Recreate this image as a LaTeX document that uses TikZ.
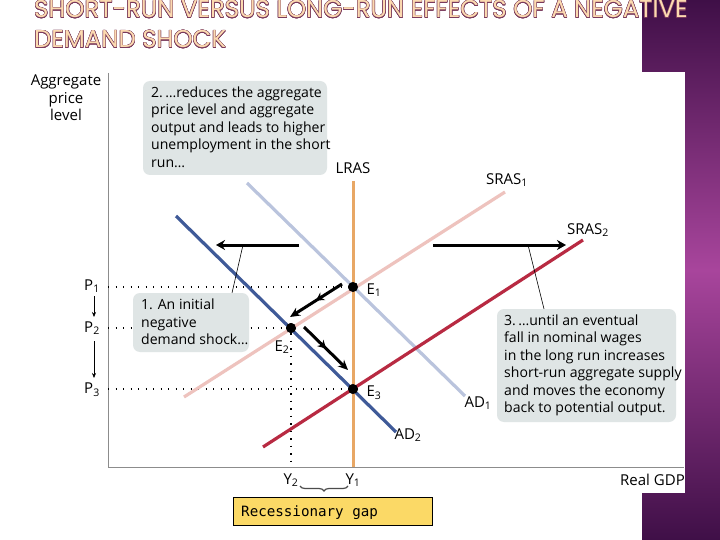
\documentclass[tikz,border=0pt]{standalone}
\usepackage{fontspec}
\usepackage[copies]{contour}
\setmainfont{Open Sans}
\newfontfamily\titlefont{Poppins}
\newfontfamily\gapfont{DejaVu Sans Mono}
\usetikzlibrary{arrows.meta,decorations.pathreplacing,decorations.markings}
\definecolor{notegray}{HTML}{DFE5E5}
\definecolor{lrascol}{HTML}{E8A765}
\definecolor{adonecol}{HTML}{BAC4DD}
\definecolor{adtwocol}{HTML}{3F5A98}
\definecolor{srasonecol}{HTML}{EEC3BE}
\definecolor{srastwocol}{HTML}{B82A42}
\definecolor{gapcol}{HTML}{FBD966}
\definecolor{titlecol}{HTML}{FCDAB0}
\definecolor{titleedge}{HTML}{7A3A5C}
\definecolor{sidedark}{HTML}{3F0F47}
\definecolor{sidelight}{HTML}{A8459C}
\contourlength{0.4pt}
\tikzset{
  curve/.style={line width=3.2pt},
  axisline/.style={draw=black!45,line width=1pt},
  dotline/.style={line width=1.3pt,dash pattern=on 1.4pt off 6.1pt},
  eqdot/.style={circle,fill=black,inner sep=0pt,minimum size=10pt},
  lab/.style={font=\fontsize{15}{17.5}\selectfont,inner sep=0pt},
  notebox/.style={fill=notegray,rounded corners=7pt,inner sep=0pt},
  notetext/.style={font=\fontsize{14.05}{17.5}\selectfont,align=left,anchor=north west,inner sep=0pt},
  shift arrow/.style={line width=3pt,-{Stealth[length=9pt,width=10pt]}},
  move arrow/.style={line width=3pt,-{Stealth[length=10pt,width=9pt]},
    postaction={decorate,decoration={markings,mark=at position 0.5 with {\arrow[line width=1pt]{Stealth[length=8pt,width=9pt]}}}}},
  title/.style={font=\titlefont\fontsize{24.4}{30}\selectfont,anchor=base west,inner sep=0pt}
}
\begin{document}
\begin{tikzpicture}[x=1pt,y=-1pt]
  \useasboundingbox (0,0) rectangle (720,540);
  \fill[white] (0,0) rectangle (720,540);
  \shade[top color=sidedark,bottom color=sidedark,middle color=sidelight] (642,0) rectangle (720,540);
  \fill[white] (642,72) rectangle (685,493);

  \node[title] (titleone) at (34,18) {\contour{titleedge}{\textcolor{titlecol}{SHORT-RUN VERSUS LONG-RUN EFFECTS OF A NEGATIVE}}};
  \node[title] (titletwo) at (34,48) {\contour{titleedge}{\textcolor{titlecol}{DEMAND SHOCK}}};

  % axes
  \coordinate (origin) at (108,467);
  \coordinate (ytop) at (108,73);
  \coordinate (xend) at (684,467);
  \draw[axisline] (ytop) -- (origin) -- (xend);

  \node[eqdot] (Eone) at (353,287) {};
  \node[eqdot] (Etwo) at (291,328) {};
  \node[eqdot] (Ethree) at (353,389) {};

  % dotted guides
  \coordinate (axisPone) at (108,287);
  \coordinate (axisPtwo) at (108,328);
  \coordinate (axisPthree) at (108,389);
  \coordinate (axisYtwo) at (291,467);
  \draw[dotline] (axisPone) -- (Eone);
  \draw[dotline] (axisPtwo) -- (Etwo);
  \draw[dotline] (axisPthree) -- (Ethree);
  \draw[dotline] (Etwo) -- (axisYtwo);

  % curves
  \coordinate (srasonea) at (184,397);
  \coordinate (srasoneb) at (505,192);
  \coordinate (adonea) at (247,183);
  \coordinate (adoneb) at (465,396);
  \coordinate (lrasa) at (353.5,181);
  \coordinate (lrasb) at (353.5,467);
  \coordinate (adtwoa) at (176,216);
  \coordinate (adtwob) at (396,432);
  \coordinate (srastwoa) at (263,447);
  \coordinate (srastwob) at (583,240);
  \draw[curve,srasonecol] (srasonea) -- (srasoneb);
  \draw[curve,adonecol] (adonea) -- (adoneb);
  \draw[curve,lrascol] (lrasa) -- (lrasb);
  \draw[curve,adtwocol] (adtwoa) -- (adtwob);
  \draw[curve,srastwocol] (srastwoa) -- (srastwob);
  \node[eqdot] at (Eone) {};
  \node[eqdot] at (Etwo) {};
  \node[eqdot] at (Ethree) {};

  % leaders and notes
  \coordinate (leadonea) at (243,245);
  \coordinate (leadoneb) at (232,293);
  \coordinate (leadthreea) at (528,245);
  \coordinate (leadthreeb) at (544,309);
  \draw[line width=0.6pt] (leadonea) -- (leadoneb);
  \draw[line width=0.6pt] (leadthreea) -- (leadthreeb);

  \node[notebox,minimum width=184pt,minimum height=94pt] (notetwo) at (235,128) {};
  \node[notetext] (notetwotext) at (151,86.5) {2.\,\dots reduces the aggregate\\price level and aggregate\\output and leads to higher\\unemployment in the short\\run\dots};
  \node[notebox,minimum width=116pt,minimum height=59pt] (noteone) at (191,322.5) {};
  \node[notetext] (noteonetext) at (141,299) {1. An initial\\negative\\demand shock\dots};
  \node[notebox,minimum width=179pt,minimum height=113pt] (notethree) at (586.5,365.5) {};
  \node[notetext] (notethreetext) at (504,314.5) {3.\,\dots until an eventual\\fall in nominal wages\\in the long run increases\\short-run aggregate supply\\and moves the economy\\back to potential output.};

  % arrows
  \coordinate (adshifta) at (299,245);
  \coordinate (adshiftb) at (216,245);
  \coordinate (srshifta) at (433,245);
  \coordinate (srshiftb) at (566,245);
  \draw[shift arrow] (adshifta) -- (adshiftb);
  \draw[shift arrow] (srshifta) -- (srshiftb);
  \coordinate (moveonea) at (342,284);
  \coordinate (moveoneb) at (290,317);
  \coordinate (movetwoa) at (304,327);
  \coordinate (movetwob) at (348,370);
  \draw[move arrow] (moveonea) -- (moveoneb);
  \draw[move arrow] (movetwoa) -- (movetwob);

  % labels
  \node[lab,align=center] (ylabel) at (66,98) {Aggregate\\price\\level};
  \node[lab] (Pone) at (92,286) {P\textsubscript{1}};
  \node[lab] (Ptwo) at (92,328) {P\textsubscript{2}};
  \node[lab] (Pthree) at (92,390) {P\textsubscript{3}};
  \draw[-{Stealth[length=5pt,width=4pt]},line width=0.6pt] (Pone) ++(2,10) coordinate (ponedown) -- (94,317) coordinate (ptwoup);
  \draw[-{Stealth[length=5pt,width=4pt]},line width=0.6pt] (Ptwo) ++(2,13) coordinate (ptwodown) -- (94,378) coordinate (pthreeup);
  \node[lab] (LRAS) at (353,168) {LRAS};
  \node[lab] (SRASone) at (507,180) {SRAS\textsubscript{1}};
  \node[lab] (SRAStwo) at (588,230) {SRAS\textsubscript{2}};
  \node[lab] (ADone) at (478,403) {AD\textsubscript{1}};
  \node[lab] (ADtwo) at (408,435) {AD\textsubscript{2}};
  \node[lab] (Eonelab) at (374,290) {E\textsubscript{1}};
  \node[lab] (Etwolab) at (282,347) {E\textsubscript{2}};
  \node[lab] (Ethreelab) at (374,393) {E\textsubscript{3}};
  \node[lab] (Ytwo) at (291,480) {Y\textsubscript{2}};
  \node[lab] (Yone) at (353,480) {Y\textsubscript{1}};
  \node[lab,anchor=east] (xlabel) at (685,480) {Real GDP};

  \coordinate (bracea) at (300,486);
  \coordinate (braceb) at (348,486);
  \draw[black!70,line width=1.2pt,decorate,decoration={brace,mirror,amplitude=5pt}] (bracea) -- (braceb);
  \node[draw=black,fill=gapcol,line width=0.8pt,minimum width=199pt,minimum height=28pt,inner sep=0pt] (gapbox) at (332.5,511) {};
  \node[font=\gapfont\fontsize{14.2}{16}\selectfont,anchor=west,inner sep=0pt] (gaptext) at (241,512.5) {Recessionary gap};
\end{tikzpicture}
\end{document}
